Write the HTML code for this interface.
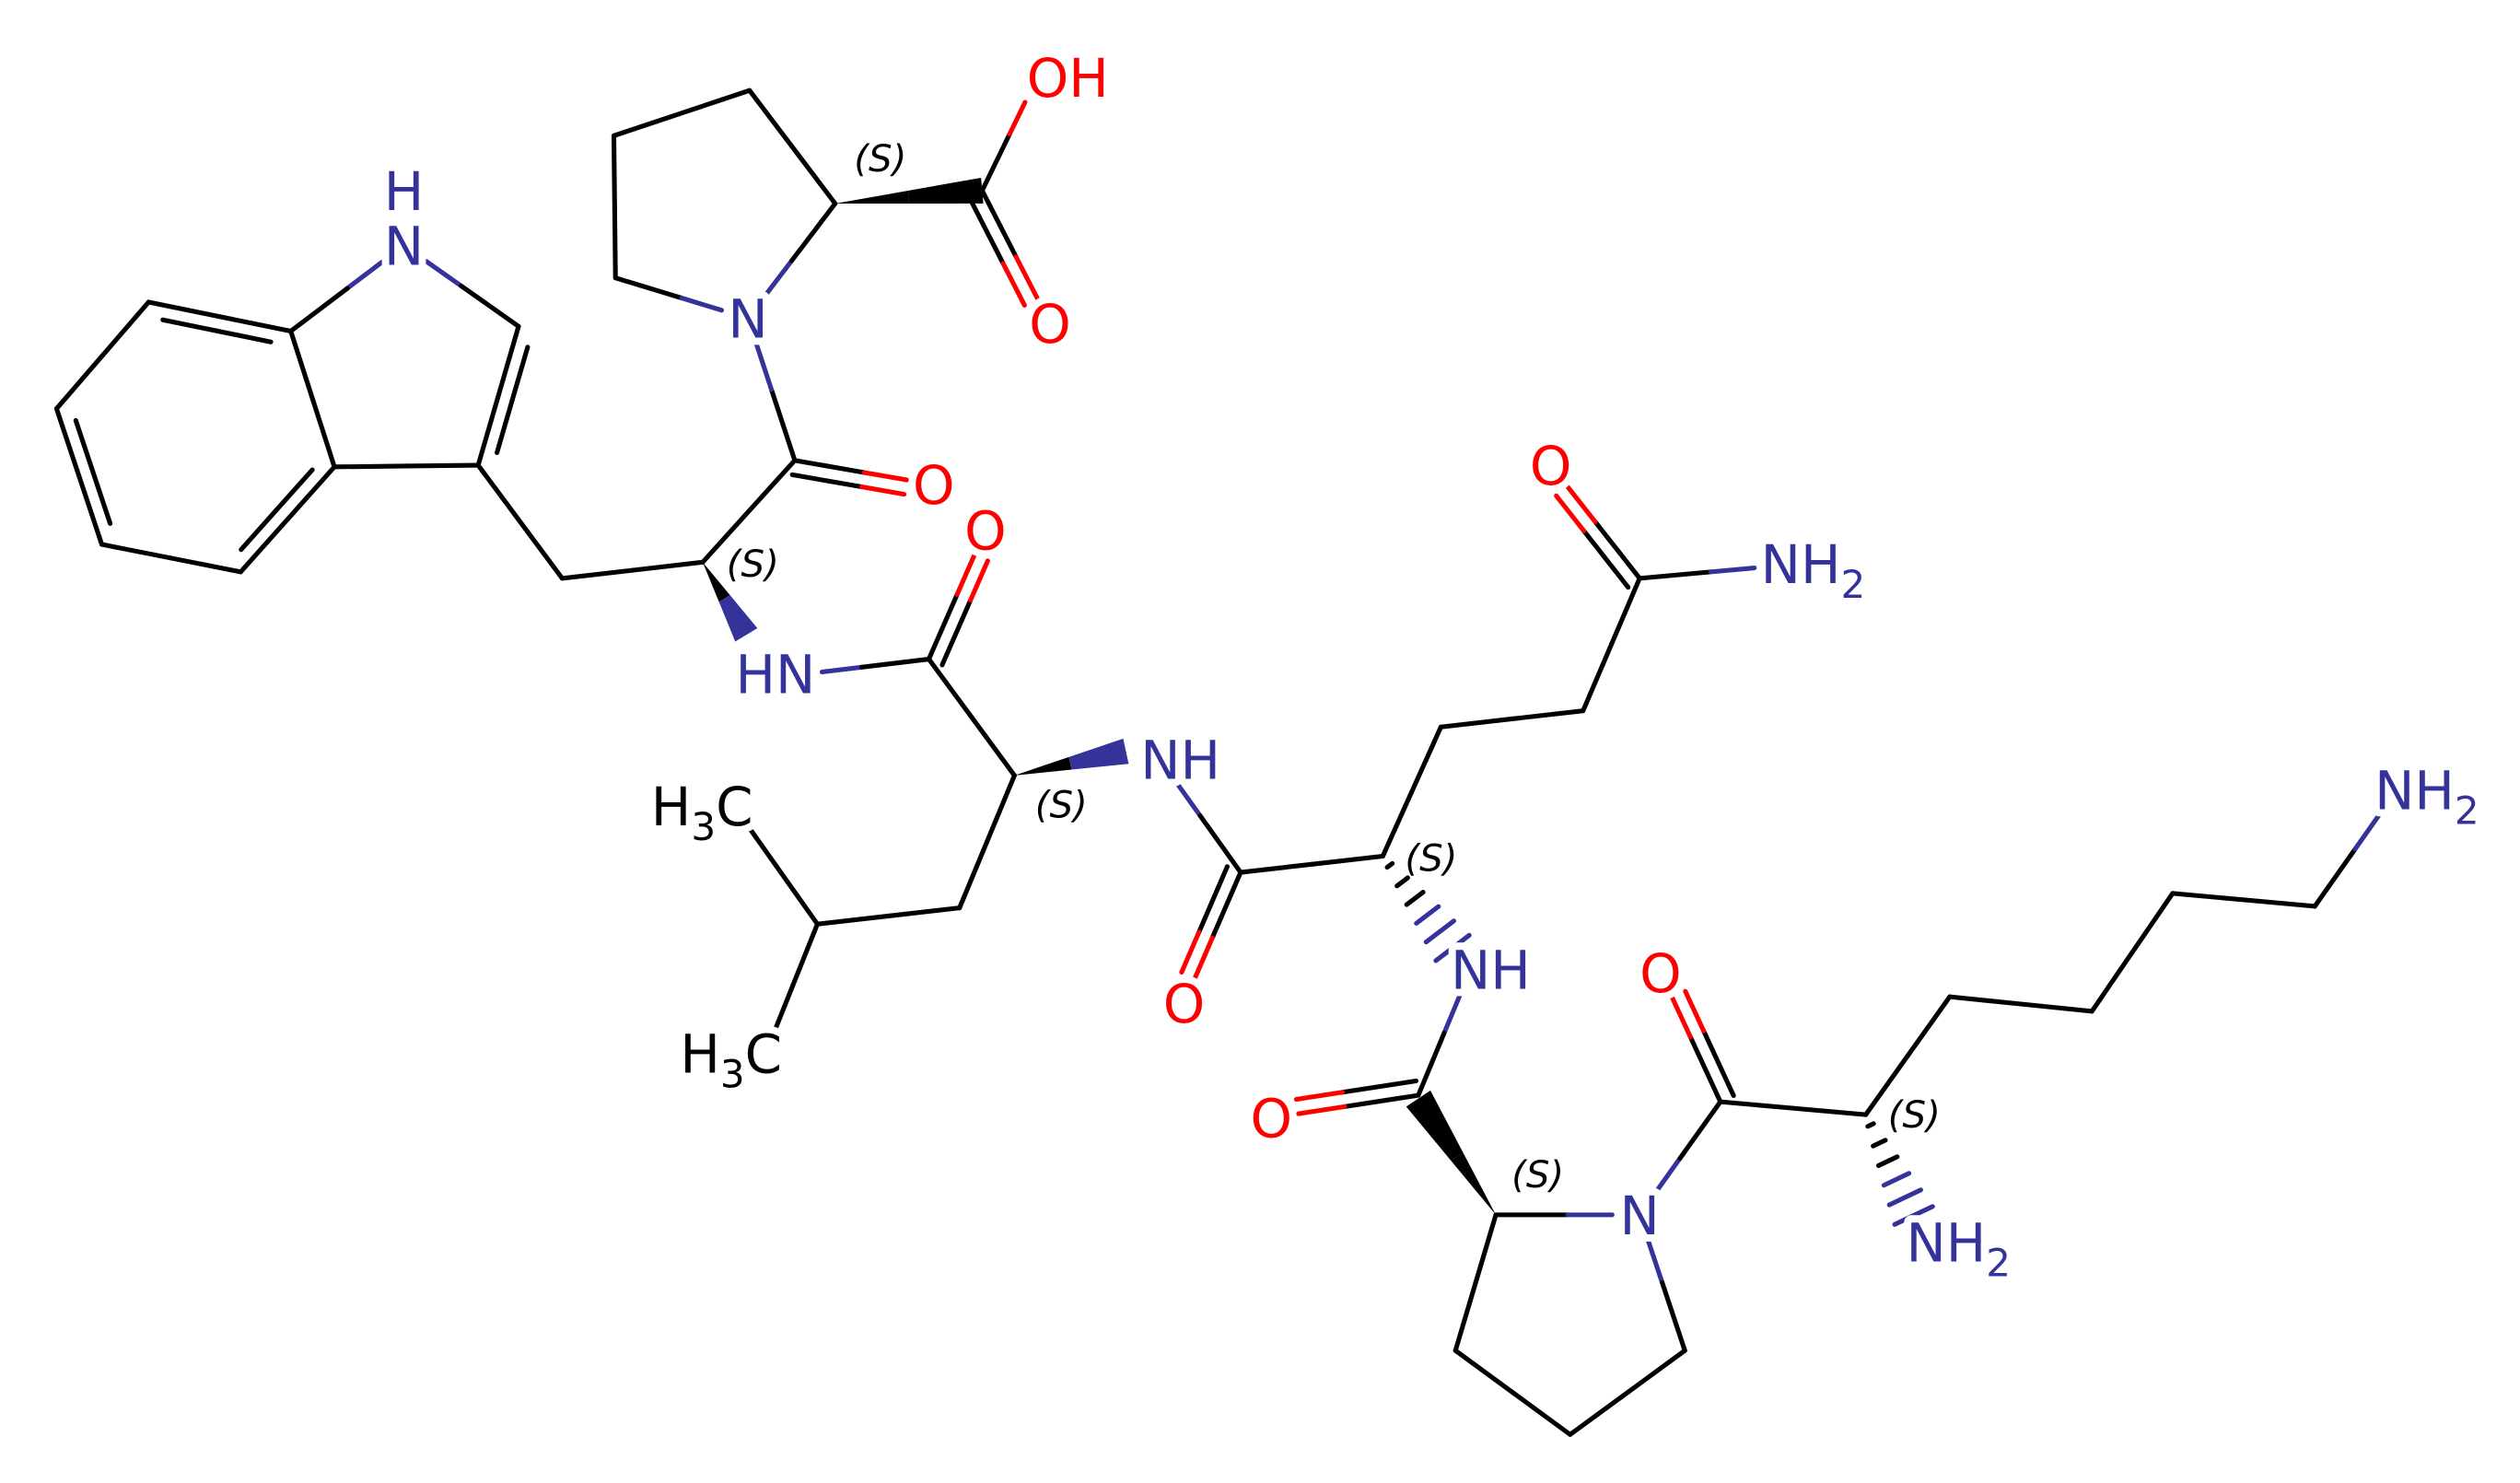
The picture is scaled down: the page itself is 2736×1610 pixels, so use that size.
<!DOCTYPE html>
<html><head><meta charset="utf-8">
<style>html,body{margin:0;padding:0;background:#fff;}svg{display:block;}
text{font-family:"DejaVu Sans","Liberation Sans",sans-serif;}</style></head>
<body>
<svg id="s" width="2736" height="1610" viewBox="0 0 1560 918" xmlns="http://www.w3.org/2000/svg">
<rect width="1560" height="918" fill="#fff"/>
<g id="b" stroke-width="2.9" stroke-linecap="round" fill="none"></g>
<g id="w"></g>
<g id="t"></g>
</svg>
<script>
const B='#33339a',R='#ff0000',K='#000000';
const bg=document.getElementById('b'),wg=document.getElementById('w'),tg=document.getElementById('t');
const A={
N1:[250,152,B],C2:[321,202],C3:[296,288],C3a:[207,289],C7a:[180,205],C7:[92,187],C6:[35,253],C5:[63,337],C4:[149,354],
Wb:[348,358],Wa:[435,348],Wn:[492,418,B],Wc:[492,285],Wo:[578,300,R],
P2n:[463,197,B],P2a:[517,126],P2b:[464,56],P2g:[380,84],P2d:[381,172],P2c:[608,118],P2oh:[642,48,R],P2o:[650,200,R],
Lc0:[575,408],Lo0:[610,328,R],La:[628,480],Ln:[718,470,B],Lb:[594,562],Lg:[506,572],Lm1:[455,500,K],Lm2:[474,652,K],
Gc0:[768,540],Go0:[733,621,R],Ga:[856,530],Gb:[892,450],Gg:[980,440],Gd:[1015,358],Go:[960,288,R],Gn:[1103,350,B],Gn2:[910,601,B],
Pc0:[878,678],Po0:[787,692,R],P1a:[926,752],P1n:[1015,752,B],P1d:[1043,836],P1g:[972,888],P1b:[901,836],
Kc0:[1065,682],Ko0:[1028,602,R],Ka:[1155,690],Kn:[1193,770,B],K1:[1207,617],K2:[1295,626],K3:[1345,553],K4:[1433,561],Kn2:[1483,490,B]
};
function col(a){return A[a][2]||K;}
function lab(a){return A[a].length>2;}
function ln(x1,y1,x2,y2,c){const l=document.createElementNS('http://www.w3.org/2000/svg','line');
l.setAttribute('x1',x1);l.setAttribute('y1',y1);l.setAttribute('x2',x2);l.setAttribute('y2',y2);l.setAttribute('stroke',c);bg.appendChild(l);}
function trim(p,q,tp,tq){const dx=q[0]-p[0],dy=q[1]-p[1],L=Math.hypot(dx,dy),r=17;
let a=[p[0],p[1]],b=[q[0],q[1]];if(tp){a=[p[0]+dx/L*r,p[1]+dy/L*r];}if(tq){b=[q[0]-dx/L*r,q[1]-dy/L*r];}return [a,b];}
function seg(p,q,ca,cb,tp,tq){const mx=(p[0]+q[0])/2,my=(p[1]+q[1])/2;const [a,b]=trim(p,q,tp,tq);
ln(a[0],a[1],mx,my,ca);ln(mx,my,b[0],b[1],cb);}
function bond(a,b){seg(A[a],A[b],col(a),col(b),lab(a),lab(b));}
function dbl(a,b,side,inner){const p=A[a],q=A[b];const dx=q[0]-p[0],dy=q[1]-p[1],L=Math.hypot(dx,dy);
const nx=-dy/L*9*side,ny=dx/L*9*side;seg(p,q,col(a),col(b),lab(a),lab(b));
let s=inner?0.12:0;const p2=[p[0]+nx+dx*s,p[1]+ny+dy*s],q2=[q[0]+nx-dx*s,q[1]+ny-dy*s];seg(p2,q2,col(a),col(b),lab(a),lab(b));}
function poly(pts,c){const e=document.createElementNS('http://www.w3.org/2000/svg','polygon');e.setAttribute('points',pts.map(p=>p[0]+','+p[1]).join(' '));e.setAttribute('fill',c);wg.appendChild(e);}
function wedgeTo(p,q,w,ca,cb){const dx=q[0]-p[0],dy=q[1]-p[1],L=Math.hypot(dx,dy);const nx=-dy/L*w,ny=dx/L*w;
const m=[p[0]+dx*0.5,p[1]+dy*0.5];
poly([p,[m[0]+nx/2,m[1]+ny/2],[m[0]-nx/2,m[1]-ny/2]],ca);
poly([[m[0]+nx/2,m[1]+ny/2],[m[0]-nx/2,m[1]-ny/2],[q[0]-nx,q[1]-ny],[q[0]+nx,q[1]+ny]],cb);}
function hash(a,b,end){const p=A[a],q=A[b];const dx=q[0]-p[0],dy=q[1]-p[1],L=Math.hypot(dx,dy);const ux=-dy/L,uy=dx/L;
const n=6;for(let i=0;i<n;i++){const t=0.08+i*(end-0.08)/(n-1);const w=2+i*2.2;const cx=p[0]+dx*t,cy=p[1]+dy*t;
ln(cx-ux*w,cy-uy*w,cx+ux*w,cy+uy*w,t<0.45?K:col(b));}}
bond('N1','C7a');bond('N1','C2');dbl('C2','C3',-1,true);bond('C3','C3a');bond('C3a','C7a');
dbl('C7a','C7',-1,true);bond('C7','C6');dbl('C6','C5',-1,true);bond('C5','C4');dbl('C4','C3a',-1,true);
bond('C3','Wb');bond('Wb','Wa');bond('Wa','Wc');dbl('Wc','Wo',1,false);bond('Wc','P2n');
wedgeTo([435,348],[462,393],8,K,B);
bond('P2n','P2a');bond('P2a','P2b');bond('P2b','P2g');bond('P2g','P2d');bond('P2d','P2n');
wedgeTo([517,126],[608,118],8,K,K);
bond('P2c','P2oh');dbl('P2c','P2o',1,false);
bond('Wn','Lc0');dbl('Lc0','Lo0',1,false);bond('Lc0','La');
wedgeTo([628,480],[697,465],8,K,B);
bond('La','Lb');bond('Lb','Lg');bond('Lg','Lm1');bond('Lg','Lm2');
bond('Ln','Gc0');dbl('Gc0','Go0',1,false);bond('Gc0','Ga');
hash('Ga','Gn2',0.8);bond('Ga','Gb');bond('Gb','Gg');bond('Gg','Gd');dbl('Gd','Go',-1,false);bond('Gd','Gn');
bond('Gn2','Pc0');dbl('Pc0','Po0',1,false);
wedgeTo([926,752],[878,680],9,K,K);
bond('P1a','P1n');bond('P1n','P1d');bond('P1d','P1g');bond('P1g','P1b');bond('P1b','P1a');
bond('P1n','Kc0');dbl('Kc0','Ko0',1,false);bond('Kc0','Ka');
hash('Ka','Kn',0.78);bond('Ka','K1');bond('K1','K2');bond('K2','K3');bond('K3','K4');bond('K4','Kn2');
function txt(x,y,html,c,anchor,size,italic){const e=document.createElementNS('http://www.w3.org/2000/svg','text');
e.setAttribute('x',x);e.setAttribute('y',y);e.setAttribute('fill',c);e.setAttribute('text-anchor',anchor||'middle');
e.setAttribute('font-size',size||33);if(italic)e.setAttribute('font-style','italic');
e.setAttribute('stroke','#fff');e.setAttribute('stroke-width',italic?0:9);e.setAttribute('paint-order','stroke');e.setAttribute('stroke-linejoin','round');
e.innerHTML=html;tg.appendChild(e);}
const sub=(s)=>`<tspan font-size="24" dy="9">${s}</tspan>`;
txt(250,130,'H',B);txt(250,164,'N',B);
txt(463,209,'N',B);
txt(661,60,'OH',R);txt(650,212,'O',R);txt(578,312,'O',R);txt(610,340,'O',R);
txt(480,429,'HN',B);txt(706,482,'NH',B,'start');
txt(403,511,'H'+sub('3')+'<tspan dy="-9">C</tspan>',K,'start');
txt(421,664,'H'+sub('3')+'<tspan dy="-9">C</tspan>',K,'start');
txt(733,633,'O',R);txt(960,300,'O',R);
txt(1090,361,'NH'+sub('2'),B,'start');
txt(898,612,'NH',B,'start');
txt(787,704,'O',R);txt(1015,764,'N',B);txt(1028,614,'O',R);
txt(1180,781,'NH'+sub('2'),B,'start');
txt(1470,501,'NH'+sub('2'),B,'start');
[[545,106],[466,357],[657,506],[886,539],[952,735],[1185,698]].forEach(p=>txt(p[0],p[1],'(S)',K,'middle',23,true));
</script>
</body></html>
